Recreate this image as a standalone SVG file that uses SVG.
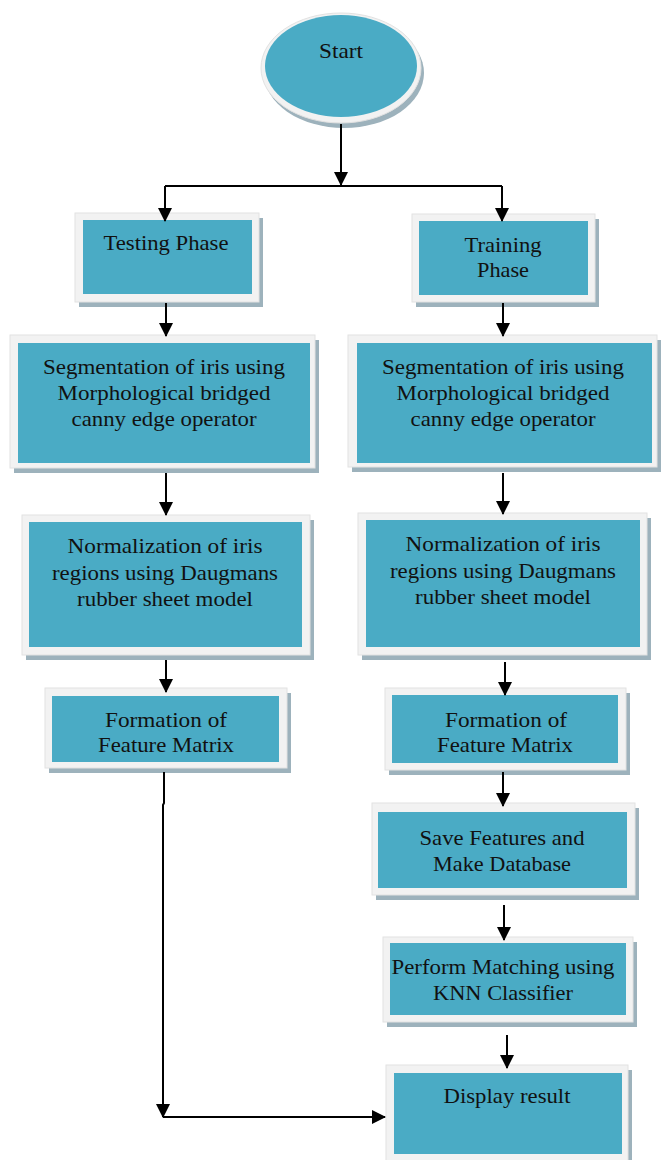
<svg xmlns="http://www.w3.org/2000/svg" width="664" height="1160" viewBox="0 0 664 1160">
<defs>
<style>
.sh{fill:#9db2bc}
.fr{fill:#f2f2f2;stroke:#e2e2e2;stroke-width:1}
.bl{fill:#4aabc5}
.t{font-size:21px;fill:#111;text-anchor:middle}
.c{fill:none;stroke:#000;stroke-width:2}
</style>
<marker id="ah" markerUnits="userSpaceOnUse" markerWidth="14" markerHeight="14" viewBox="0 0 14 14" refX="13" refY="7" orient="auto">
<path d="M0,0 L14,7 L0,14 Z" fill="#000"/>
</marker>
</defs>
<rect width="664" height="1160" fill="#fff"/>
<g font-family="Liberation Serif, Times New Roman, serif" lengthAdjust="spacingAndGlyphs">
<g id="start">
<ellipse cx="344" cy="73" rx="80" ry="55" class="sh"/>
<ellipse cx="341" cy="68" rx="80" ry="55" class="fr"/>
<ellipse cx="341" cy="66" rx="76" ry="51" class="bl"/>
<text x="341" y="58" class="t" textLength="44" lengthAdjust="spacingAndGlyphs">Start</text>
</g>
<g id="testing">
<rect x="79" y="218" width="184" height="89" class="sh"/>
<rect x="75" y="213" width="184" height="89" class="fr"/>
<rect x="83" y="220" width="169" height="74" class="bl"/>
<text x="166" y="250" class="t" textLength="125" lengthAdjust="spacingAndGlyphs">Testing Phase</text>
</g>
<g id="training">
<rect x="416" y="219" width="183" height="88" class="sh"/>
<rect x="412" y="214" width="183" height="88" class="fr"/>
<rect x="419" y="221" width="169" height="74" class="bl"/>
<text x="503" y="252" class="t" textLength="77" lengthAdjust="spacingAndGlyphs">Training</text>
<text x="503" y="277" class="t" textLength="52" lengthAdjust="spacingAndGlyphs">Phase</text>
</g>
<g id="seg-left">
<rect x="14" y="340" width="305" height="133" class="sh"/>
<rect x="10" y="335" width="305" height="133" class="fr"/>
<rect x="18" y="343" width="292" height="120" class="bl"/>
<text x="164" y="374" class="t" textLength="242" lengthAdjust="spacingAndGlyphs">Segmentation of iris using</text>
<text x="164" y="400" class="t" textLength="213" lengthAdjust="spacingAndGlyphs">Morphological bridged</text>
<text x="164" y="426" class="t" textLength="185" lengthAdjust="spacingAndGlyphs">canny edge operator</text>
</g>
<g id="seg-right">
<rect x="352" y="340" width="309" height="132" class="sh"/>
<rect x="348" y="335" width="309" height="132" class="fr"/>
<rect x="357" y="343" width="295" height="120" class="bl"/>
<text x="503" y="374" class="t" textLength="242" lengthAdjust="spacingAndGlyphs">Segmentation of iris using</text>
<text x="503" y="400" class="t" textLength="213" lengthAdjust="spacingAndGlyphs">Morphological bridged</text>
<text x="503" y="426" class="t" textLength="185" lengthAdjust="spacingAndGlyphs">canny edge operator</text>
</g>
<g id="norm-left">
<rect x="26" y="520" width="288" height="140" class="sh"/>
<rect x="22" y="515" width="288" height="140" class="fr"/>
<rect x="29" y="522" width="273" height="125" class="bl"/>
<text x="165" y="553" class="t" textLength="195" lengthAdjust="spacingAndGlyphs">Normalization of iris</text>
<text x="165" y="580" class="t" textLength="226" lengthAdjust="spacingAndGlyphs">regions using Daugmans</text>
<text x="165" y="606" class="t" textLength="176" lengthAdjust="spacingAndGlyphs">rubber sheet model</text>
</g>
<g id="norm-right">
<rect x="362" y="518" width="289" height="142" class="sh"/>
<rect x="358" y="513" width="289" height="142" class="fr"/>
<rect x="366" y="520" width="274" height="127" class="bl"/>
<text x="503" y="551" class="t" textLength="195" lengthAdjust="spacingAndGlyphs">Normalization of iris</text>
<text x="503" y="578" class="t" textLength="226" lengthAdjust="spacingAndGlyphs">regions using Daugmans</text>
<text x="503" y="604" class="t" textLength="176" lengthAdjust="spacingAndGlyphs">rubber sheet model</text>
</g>
<g id="form-left">
<rect x="49" y="693" width="242" height="80" class="sh"/>
<rect x="45" y="688" width="242" height="80" class="fr"/>
<rect x="52" y="696" width="227" height="66" class="bl"/>
<text x="166" y="727" class="t" textLength="122" lengthAdjust="spacingAndGlyphs">Formation of</text>
<text x="166" y="752" class="t" textLength="136" lengthAdjust="spacingAndGlyphs">Feature Matrix</text>
</g>
<g id="form-right">
<rect x="389" y="693" width="241" height="82" class="sh"/>
<rect x="385" y="688" width="241" height="82" class="fr"/>
<rect x="392" y="695" width="226" height="68" class="bl"/>
<text x="506" y="727" class="t" textLength="122" lengthAdjust="spacingAndGlyphs">Formation of</text>
<text x="505" y="752" class="t" textLength="136" lengthAdjust="spacingAndGlyphs">Feature Matrix</text>
</g>
<g id="save">
<rect x="376" y="808" width="263" height="92" class="sh"/>
<rect x="372" y="803" width="263" height="92" class="fr"/>
<rect x="378" y="812" width="249" height="76" class="bl"/>
<text x="502" y="845" class="t" textLength="165" lengthAdjust="spacingAndGlyphs">Save Features and</text>
<text x="502" y="871" class="t" textLength="138" lengthAdjust="spacingAndGlyphs">Make Database</text>
</g>
<g id="perform">
<rect x="387" y="942" width="250" height="85" class="sh"/>
<rect x="383" y="937" width="250" height="85" class="fr"/>
<rect x="390" y="943" width="236" height="72" class="bl"/>
<text x="503" y="974" class="t" textLength="223" lengthAdjust="spacingAndGlyphs">Perform Matching using</text>
<text x="503" y="1000" class="t" textLength="140" lengthAdjust="spacingAndGlyphs">KNN Classifier</text>
</g>
<g id="display">
<rect x="390" y="1070" width="242" height="98" class="sh"/>
<rect x="386" y="1065" width="242" height="98" class="fr"/>
<rect x="394" y="1073" width="228" height="81" class="bl"/>
<text x="507" y="1103" class="t" textLength="127" lengthAdjust="spacingAndGlyphs">Display result</text>
</g>
</g>
<g id="connectors">
<path d="M341,124 V185" class="c" marker-end="url(#ah)"/>
<path d="M165,186 H502" class="c"/>
<path d="M165,186 V221" class="c" marker-end="url(#ah)"/>
<path d="M502,186 V221" class="c" marker-end="url(#ah)"/>
<path d="M166,303 V336" class="c" marker-end="url(#ah)"/>
<path d="M503,303 V336" class="c" marker-end="url(#ah)"/>
<path d="M166,473 V515" class="c" marker-end="url(#ah)"/>
<path d="M503,473 V514" class="c" marker-end="url(#ah)"/>
<path d="M166,660 V692" class="c" marker-end="url(#ah)"/>
<path d="M505,662 V695" class="c" marker-end="url(#ah)"/>
<path d="M503,772 V806" class="c" marker-end="url(#ah)"/>
<path d="M504,905 V940" class="c" marker-end="url(#ah)"/>
<path d="M507,1035 V1068" class="c" marker-end="url(#ah)"/>
<path d="M164,772 V803 L163,805 V1117" class="c" marker-end="url(#ah)"/>
<path d="M163,1117 H385" class="c" marker-end="url(#ah)"/>
</g>
</svg>
